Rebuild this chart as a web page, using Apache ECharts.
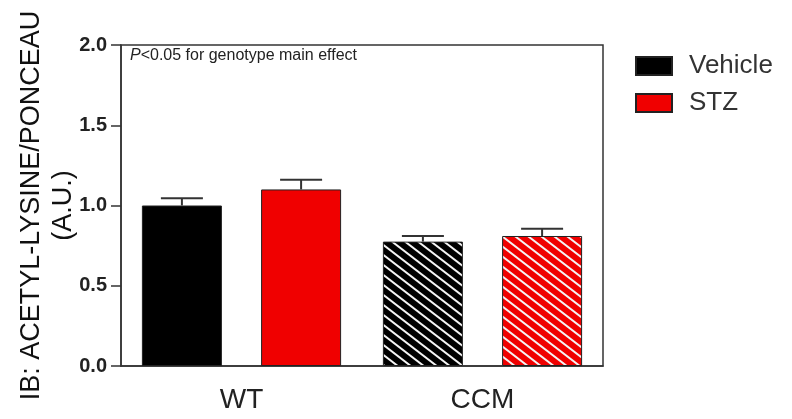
<!DOCTYPE html>
<html>
<head>
<meta charset="utf-8">
<script src="https://cdn.jsdelivr.net/npm/echarts@6/dist/echarts.min.js"></script>
<style>
  html, body { margin: 0; padding: 0; background: #fff; }
  #main { width: 792px; height: 419px; }
</style>
</head>
<body>
<div id="main"></div>
<script>
// data
const categories = ["WT", "CCM"];
const vehicleMean = [1.0, 0.775];
const vehicleErr = [0.045, 0.035];
const stzMean = [1.10, 0.81];
const stzErr = [0.06, 0.045];
const yTicks = [0, 0.5, 1.0, 1.5, 2.0];
const hatched = [false, true]; // CCM bars are striped

const BAR_W = 80;
const BAR_GAP = 0.49;

// diagonal white stripes on a fill colour
function stripes(bg) {
  const w = 13, h = 10;
  const c = document.createElement("canvas");
  c.width = w;
  c.height = h;
  const ctx = c.getContext("2d");
  ctx.fillStyle = bg;
  ctx.fillRect(0, 0, w, h);
  ctx.strokeStyle = "#f4f4f4";
  ctx.lineWidth = 2;
  for (let k = -1; k <= 1; k++) {
    ctx.beginPath();
    ctx.moveTo(k * w - w, -h);
    ctx.lineTo(k * w + 2 * w, 2 * h);
    ctx.stroke();
  }
  return { image: c, repeat: "repeat" };
}

function barData(means, color) {
  return means.map((v, i) => hatched[i]
    ? { value: v, itemStyle: { color: stripes(color) } }
    : v);
}

// error bars: [category, mean, err, side]
const errData = [];
for (let i = 0; i < categories.length; i++) {
  errData.push([i, vehicleMean[i], vehicleErr[i], -1]);
  errData.push([i, stzMean[i], stzErr[i], 1]);
}

const myChart = echarts.init(document.getElementById("main"));

const option = {
  animation: false,
  textStyle: { fontFamily: "Liberation Sans, Arial, sans-serif" },
  grid: {
    left: 121, right: 189, top: 45, bottom: 53,
    outerBoundsMode: "none",
    containLabel: false,
    show: true, borderColor: "#333", borderWidth: 1.5
  },
  legend: {
    orient: "vertical",
    left: 635,
    top: 53,
    padding: 0,
    itemWidth: 36,
    itemHeight: 18,
    itemGap: 11,
    icon: "rect",
    textStyle: { fontSize: 26, color: "#333", lineHeight: 26, padding: [0, 0, 0, 12] },
    data: ["Vehicle", "STZ"]
  },
  xAxis: {
    type: "category",
    data: categories,
    axisLine: { lineStyle: { color: "#333", width: 1.5 } },
    axisTick: { show: false },
    axisLabel: { fontSize: 28, color: "#222", margin: 20 }
  },
  yAxis: {
    type: "value",
    min: yTicks[0],
    max: yTicks[yTicks.length - 1],
    interval: 0.5,
    splitLine: { show: false },
    axisLine: { show: true, lineStyle: { color: "#333", width: 1.5 } },
    axisTick: { show: true, length: 10, lineStyle: { color: "#333", width: 1.5 } },
    axisLabel: {
      fontSize: 20, fontWeight: "bold", color: "#222", margin: 14,
      formatter: v => v.toFixed(1)
    },
    name: "IB: ACETYL-LYSINE/PONCEAU\n(A.U.)",
    nameLocation: "middle",
    nameRotate: 90,
    nameGap: 41,
    nameMoveOverlap: false,
    nameTextStyle: { fontSize: 27, color: "#111", lineHeight: 32 }
  },
  graphic: [{
    type: "text",
    left: 130,
    top: 48,
    style: {
      text: "{i|P}<0.05 for genotype main effect",
      fontSize: 16,
      fill: "#222",
      rich: { i: { fontStyle: "italic", fontSize: 16 } }
    }
  }],
  series: [
    {
      name: "Vehicle",
      type: "bar",
      barWidth: BAR_W,
      barGap: BAR_GAP * 100 + "%",
      itemStyle: { color: "#000", borderColor: "#222", borderWidth: 1 },
      data: barData(vehicleMean, "#000")
    },
    {
      name: "STZ",
      type: "bar",
      barWidth: BAR_W,
      itemStyle: { color: "#f00000", borderColor: "#222", borderWidth: 1 },
      data: barData(stzMean, "#f00000")
    },
    {
      type: "custom",
      z: 5,
      data: errData,
      renderItem: (params, api) => {
        const off = api.value(3) * (BAR_W + BAR_W * BAR_GAP) / 2;
        const p0 = api.coord([api.value(0), api.value(1)]);
        const p1 = api.coord([api.value(0), api.value(1) + api.value(2)]);
        const x = p0[0] + off;
        const st = { stroke: "#333", lineWidth: 2 };
        return {
          type: "group",
          children: [
            { type: "line", shape: { x1: x, y1: p0[1], x2: x, y2: p1[1] }, style: st },
            { type: "line", shape: { x1: x - 21, y1: p1[1], x2: x + 21, y2: p1[1] }, style: st }
          ]
        };
      }
    }
  ]
};

myChart.setOption(option);
window.addEventListener("resize", () => {
  myChart.resize();
});
</script>
</body>
</html>
